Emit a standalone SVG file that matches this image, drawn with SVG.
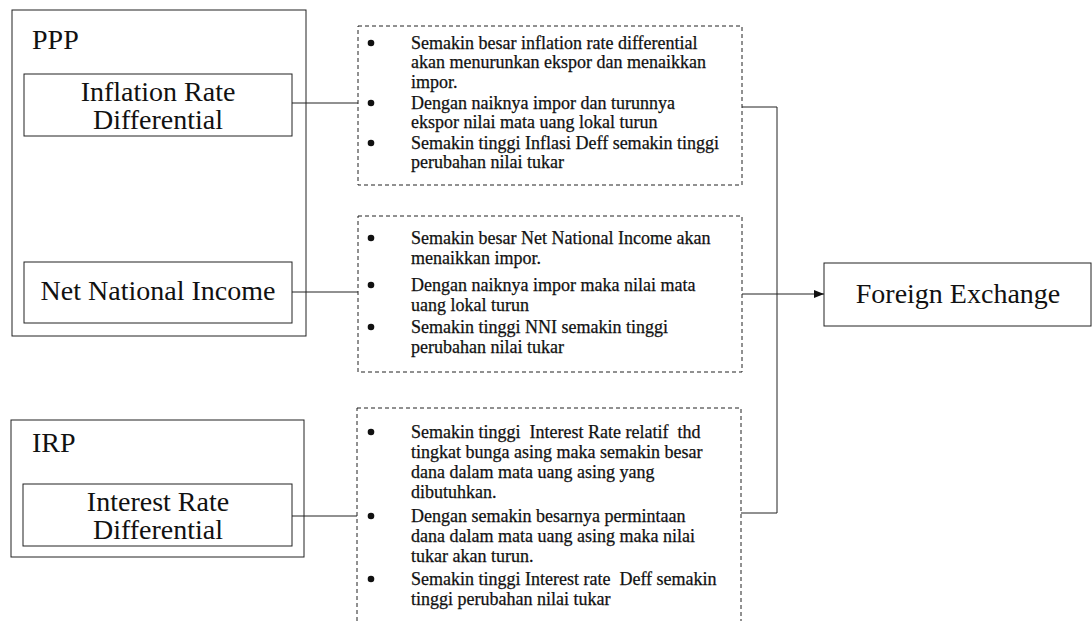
<svg xmlns="http://www.w3.org/2000/svg" width="1092" height="621" viewBox="0 0 1092 621">
  <style>
    .box { fill: none; stroke: #222; stroke-width: 1; }
    .dash { fill: none; stroke: #222; stroke-width: 1; stroke-dasharray: 4 3; }
    .big { font-family: "Liberation Serif", "Times New Roman", serif; font-size: 28px; fill: #111; }
    .txt { font-family: "Liberation Serif", "Times New Roman", serif; font-size: 18px; fill: #111; stroke: #111; stroke-width: 0.25; white-space: pre; }
    .bul { fill: #111; }
    .line { fill: none; stroke: #222; stroke-width: 1; }
  </style>
  <defs>
    <marker id="arrow" markerWidth="10" markerHeight="8" refX="10" refY="4" orient="auto" markerUnits="userSpaceOnUse">
      <path d="M0,0 L10,4 L0,8 Z" fill="#111"/>
    </marker>
  </defs>
  <rect width="1092" height="621" fill="#fff"/>

  <g id="ppp">
    <rect class="box" x="12" y="10" width="294" height="326"/>
    <text class="big" x="32" y="49">PPP</text>
  </g>
  <g id="inflation">
    <rect class="box" x="24" y="74" width="268" height="62"/>
    <text class="big" x="158" y="101" text-anchor="middle">Inflation Rate</text>
    <text class="big" x="158" y="129" text-anchor="middle">Differential</text>
  </g>
  <g id="nni">
    <rect class="box" x="24" y="262" width="268" height="61"/>
    <text class="big" x="158" y="300" text-anchor="middle">Net National Income</text>
  </g>
  <g id="irp">
    <rect class="box" x="11" y="420" width="293" height="137"/>
    <text class="big" x="32" y="452">IRP</text>
  </g>
  <g id="interest">
    <rect class="box" x="23" y="484" width="269" height="62"/>
    <text class="big" x="158" y="511" text-anchor="middle">Interest Rate</text>
    <text class="big" x="158" y="539" text-anchor="middle">Differential</text>
  </g>

  <g id="note-inflation">
    <rect class="dash" x="358" y="26" width="384" height="159"/>
    <circle class="bul" cx="371" cy="43" r="3.3"/>
    <circle class="bul" cx="371" cy="103" r="3.3"/>
    <circle class="bul" cx="371" cy="143" r="3.3"/>
    <text class="txt" x="411" y="48.5">Semakin besar inflation rate differential</text>
    <text class="txt" x="411" y="68">akan menurunkan ekspor dan menaikkan</text>
    <text class="txt" x="411" y="87.5">impor.</text>
    <text class="txt" x="411" y="108.5">Dengan naiknya impor dan turunnya</text>
    <text class="txt" x="411" y="128">ekspor nilai mata uang lokal turun</text>
    <text class="txt" x="411" y="148.5">Semakin tinggi Inflasi Deff semakin tinggi</text>
    <text class="txt" x="411" y="168">perubahan nilai tukar</text>
  </g>
  <g id="note-nni">
    <rect class="dash" x="358" y="216" width="384" height="156"/>
    <circle class="bul" cx="371" cy="238" r="3.3"/>
    <circle class="bul" cx="371" cy="285" r="3.3"/>
    <circle class="bul" cx="371" cy="327" r="3.3"/>
    <text class="txt" x="411" y="243.5">Semakin besar Net National Income akan</text>
    <text class="txt" x="411" y="263.5">menaikkan impor.</text>
    <text class="txt" x="411" y="290.5">Dengan naiknya impor maka nilai mata</text>
    <text class="txt" x="411" y="310.5">uang lokal turun</text>
    <text class="txt" x="411" y="332.5">Semakin tinggi NNI semakin tinggi</text>
    <text class="txt" x="411" y="352.5">perubahan nilai tukar</text>
  </g>
  <g id="note-irp">
    <rect class="dash" x="357" y="408" width="384" height="230"/>
    <circle class="bul" cx="371" cy="432" r="3.3"/>
    <circle class="bul" cx="371" cy="516" r="3.3"/>
    <circle class="bul" cx="371" cy="579" r="3.3"/>
    <text class="txt" x="411" y="437.5">Semakin tinggi  Interest Rate relatif  thd</text>
    <text class="txt" x="411" y="457.5">tingkat bunga asing maka semakin besar</text>
    <text class="txt" x="411" y="477.5">dana dalam mata uang asing yang</text>
    <text class="txt" x="411" y="497.5">dibutuhkan.</text>
    <text class="txt" x="411" y="521.5">Dengan semakin besarnya permintaan</text>
    <text class="txt" x="411" y="541.5">dana dalam mata uang asing maka nilai</text>
    <text class="txt" x="411" y="561.5">tukar akan turun.</text>
    <text class="txt" x="411" y="584.5">Semakin tinggi Interest rate  Deff semakin</text>
    <text class="txt" x="411" y="604.5">tinggi perubahan nilai tukar</text>
  </g>

  <g id="fx">
    <rect class="box" x="824" y="263" width="267" height="63"/>
    <text class="big" x="958" y="303" text-anchor="middle">Foreign Exchange</text>
  </g>

  <g id="connectors">
    <line class="line" x1="292" y1="103" x2="358" y2="103"/>
    <line class="line" x1="292" y1="292" x2="358" y2="292"/>
    <line class="line" x1="292" y1="516" x2="357" y2="516"/>
    <polyline class="line" points="742,107 777,107 777,513 741,513"/>
    <line class="line" x1="742" y1="294" x2="824" y2="294" marker-end="url(#arrow)"/>
  </g>
</svg>
